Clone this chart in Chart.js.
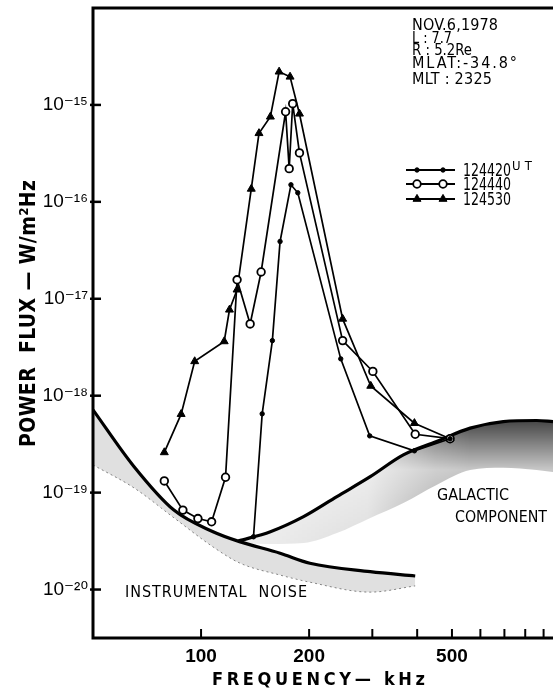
<!DOCTYPE html>
<html><head><meta charset="utf-8">
<script src="https://cdn.jsdelivr.net/npm/chart.js@4.4.0/dist/chart.umd.min.js"></script>
<style>html,body{margin:0;padding:0;background:#fff;}#wrap{width:553px;height:690px;}</style>
</head><body><div id="wrap"><canvas id="c" width="553" height="690"></canvas></div>
<script>
// ---- data (kHz, W/m^2Hz) ----
const freq420 = [140,148,158,166,178,186,245,295,393,494];
const flux420 = [3.5e-20,6.5e-19,3.7e-18,3.9e-17,1.5e-16,1.24e-16,2.4e-18,3.85e-19,2.7e-19,3.6e-19];
const freq440 = [79,89,98,107,117,126,137,147,172,176,180,188,248,301,395,494];
const flux440 = [1.32e-19,6.6e-20,5.4e-20,5.0e-20,1.44e-19,1.57e-17,5.5e-18,1.89e-17,8.5e-16,2.2e-16,1.03e-15,3.2e-16,3.7e-18,1.78e-18,4.0e-19,3.6e-19];
const freq530 = [79,88,96,116,120,126,138,145,156,165,177,188,248,297,393,494];
const flux530 = [2.6e-19,6.45e-19,2.26e-18,3.63e-18,7.7e-18,1.24e-17,1.36e-16,5.1e-16,7.55e-16,2.2e-15,1.95e-15,8.1e-16,6.2e-18,1.26e-18,5.2e-19,3.6e-19];
const seriesLabels = ['124420','124440','124530'];

const noiseFreq  = [50,65,84,108,128,166,201,296,395];
const noiseUpper = [7.15e-19,1.86e-19,6.6e-20,3.95e-20,3.12e-20,2.37e-20,1.87e-20,1.53e-20,1.38e-20];
const noiseLower = [1.93e-19,1.12e-19,5.5e-20,2.75e-20,1.88e-20,1.41e-20,1.19e-20,9.4e-21,1.09e-20];

const galFreq  = [127,156,193,239,296,366,453,562,695,861,956];
const galUpper = [3.17e-20,3.95e-20,5.65e-20,9.1e-20,1.46e-19,2.45e-19,3.37e-19,4.63e-19,5.41e-19,5.55e-19,5.41e-19];
const galLower = [3.0e-20,2.95e-20,3.02e-20,3.83e-20,5.48e-20,7.8e-20,1.2e-19,1.71e-19,1.8e-19,1.71e-19,1.63e-19];

const xTickValues = [100,200,300,400,500,600,700,800,900];
const xTickLabels = ['100','200','','','500','','','',''];
const yTickValues = [1e-20,1e-19,1e-18,1e-17,1e-16,1e-15];
const yTickLabels = ['10\u207B\u00B2\u2070','10\u207B\u00B9\u2079','10\u207B\u00B9\u2078','10\u207B\u00B9\u2077','10\u207B\u00B9\u2076','10\u207B\u00B9\u2075'];

const infoLines = ['NOV.6,1978','L : 7.7','R : 5.2Re','MLAT:-34.8\u00B0','MLT : 2325'];
const xTitle = 'FREQUENCY\u2014 kHz';
const yTitle = 'POWER  FLUX \u2014 W/m\u00B2Hz';
const noiseLabel = 'INSTRUMENTAL  NOISE';
const galLabel = ['GALACTIC','COMPONENT'];

const FONT = "'DejaVu Sans Condensed','DejaVu Sans',sans-serif";
const TICKFONT = "'Liberation Sans','DejaVu Sans',sans-serif";

function pts(xs, ys){ return xs.map((x,i)=>({x:x, y:ys[i]})); }

function spaced(ctx, s, x, y, width, font, align){
  ctx.save();
  ctx.font = font;
  ctx.letterSpacing = '0px';
  const w = ctx.measureText(s).width;
  let sp = width ? (width - w)/Math.max(1,s.length-1) : 0;
  ctx.textAlign = align || 'left';
  ctx.textBaseline = 'alphabetic';
  ctx.fillStyle = '#000';
  if (sp < 0) {
    ctx.translate(x, y);
    ctx.scale(width / w, 1);
    ctx.fillText(s, 0, 0);
  } else {
    ctx.letterSpacing = sp + 'px';
    ctx.fillText(s, x, y);
  }
  ctx.restore();
}

const decor = {
  id:'decor',
  afterDraw(chart){
    const ctx = chart.ctx, a = chart.chartArea, xs = chart.scales.x, ys = chart.scales.y;
    ctx.save();
    ctx.strokeStyle = '#000'; ctx.lineCap='butt';
    ctx.lineWidth = 3;
    ctx.beginPath();
    ctx.moveTo(a.right, a.top); ctx.lineTo(a.left, a.top); ctx.lineTo(a.left, a.bottom); ctx.lineTo(a.right, a.bottom);
    ctx.stroke();
    ctx.lineWidth = 2.5;
    yTickValues.forEach(v=>{ const y = ys.getPixelForValue(v); ctx.beginPath(); ctx.moveTo(a.left-3,y); ctx.lineTo(a.left+8,y); ctx.stroke(); });
    ctx.lineWidth = 2;
    xTickValues.forEach(v=>{ const x = xs.getPixelForValue(v); ctx.beginPath(); ctx.moveTo(x,a.bottom); ctx.lineTo(x,a.bottom-9); ctx.stroke(); });
    ctx.restore();

    // info block
    const infoY = [30,43,55,68,84];
    const infoW = [86,40,60,105,80];
    infoLines.forEach((s,i)=> spaced(ctx, s, 412, infoY[i], infoW[i], "16px "+FONT));
    // legend
    const legY = [170,184,199];
    [4,5,6].forEach((di,i)=>{
      const ds = chart.data.datasets[di];
      ctx.save();
      ctx.strokeStyle='#000'; ctx.lineWidth=1.8;
      ctx.beginPath(); ctx.moveTo(406,legY[i]); ctx.lineTo(455,legY[i]); ctx.stroke();
      ctx.fillStyle = ds.pointBackgroundColor; ctx.strokeStyle = ds.pointBorderColor; ctx.lineWidth = ds.pointBorderWidth;
      [417,443].forEach(px=>{
        Chart.helpers.drawPoint(ctx, {pointStyle: ds.pointStyle, radius: ds.pointRadius, borderWidth: ds.pointBorderWidth, rotation:0}, px, legY[i]);
      });
      ctx.restore();
      spaced(ctx, ds.label, 463, legY[i]+6, 48, "17px "+FONT);
    });
    spaced(ctx, 'UT', 512, 170, 20, "13px "+FONT);
    // curve labels
    spaced(ctx, noiseLabel, 125, 597, 182, "16px "+FONT);
    spaced(ctx, galLabel[0], 437, 500, 72, "16px "+FONT);
    spaced(ctx, galLabel[1], 455, 522, 92, "16px "+FONT);
    // axis titles
    spaced(ctx, xTitle, 212, 685, 213, "bold 18px "+FONT);
    ctx.save();
    ctx.translate(35, 447);
    ctx.rotate(-Math.PI/2);
    spaced(ctx, yTitle, 0, 0, 267, "bold 21px "+FONT);
    ctx.restore();
  }
};

function galFill(c){
  const ch = c.chart, a = ch.chartArea;
  if(!a) return 'rgba(0,0,0,0.2)';
  const xs = ch.scales.x, ys = ch.scales.y;
  const off = document.createElement('canvas');
  off.width = ch.width; off.height = ch.height;
  const o = off.getContext('2d');
  const gh = o.createLinearGradient(xs.getPixelForValue(130),0,xs.getPixelForValue(560),0);
  gh.addColorStop(0,'rgba(0,0,0,0.10)');
  gh.addColorStop(0.55,'rgba(0,0,0,0.22)');
  gh.addColorStop(0.85,'rgba(0,0,0,0.62)');
  gh.addColorStop(1,'rgba(0,0,0,0.72)');
  o.fillStyle = gh; o.fillRect(0,0,off.width,off.height);
  o.globalCompositeOperation = 'destination-in';
  const gv = o.createLinearGradient(0,ys.getPixelForValue(5.5e-19),0,ys.getPixelForValue(3e-20));
  gv.addColorStop(0,'rgba(0,0,0,1)');
  gv.addColorStop(0.4,'rgba(0,0,0,0.3)');
  gv.addColorStop(1,'rgba(0,0,0,0.6)');
  o.fillStyle = gv; o.fillRect(0,0,off.width,off.height);
  return ch.ctx.createPattern(off,'no-repeat');
}

const lineCommon = {borderColor:'#000', borderWidth:1.7, tension:0, fill:false, order:0};
const zeroPad = s => { s.paddingLeft = 0; s.paddingRight = 0; s.paddingTop = 0; s.paddingBottom = 0; };

new Chart(document.getElementById('c'), {
  type:'line',
  data:{ datasets:[
    {label:'noise', data:pts(noiseFreq,noiseUpper), borderColor:'#000', borderWidth:3.2, pointRadius:0, cubicInterpolationMode:'monotone', fill:false, order:2},
    {label:'noiseLow', data:pts(noiseFreq,noiseLower), borderColor:'rgba(0,0,0,0.45)', borderWidth:1, borderDash:[2,3], pointRadius:0, cubicInterpolationMode:'monotone', fill:{target:0}, backgroundColor:'rgba(0,0,0,0.12)', order:2},
    {label:'gal', data:pts(galFreq,galUpper), borderColor:'#000', borderWidth:3.2, pointRadius:0, cubicInterpolationMode:'monotone', fill:false, order:1},
    {label:'galLow', data:pts(galFreq,galLower), borderColor:'rgba(0,0,0,0)', borderWidth:0, pointRadius:0, cubicInterpolationMode:'monotone', fill:{target:2}, backgroundColor:galFill, order:1},
    Object.assign({label:seriesLabels[0], data:pts(freq420,flux420), pointStyle:'circle', pointRadius:2.2, pointBackgroundColor:'#000', pointBorderColor:'#000', pointBorderWidth:1}, lineCommon),
    Object.assign({label:seriesLabels[1], data:pts(freq440,flux440), pointStyle:'circle', pointRadius:3.8, pointBackgroundColor:'#fff', pointBorderColor:'#000', pointBorderWidth:1.8}, lineCommon),
    Object.assign({label:seriesLabels[2], data:pts(freq530,flux530), pointStyle:'triangle', pointRadius:4.6, pointBackgroundColor:'#000', pointBorderColor:'#000', pointBorderWidth:1}, lineCommon)
  ]},
  options:{
    responsive:false, animation:false, devicePixelRatio:1,
    layout:{autoPadding:false, padding:{top:8,left:0,right:0,bottom:0}},
    plugins:{legend:{display:false}, tooltip:{enabled:false}},
    scales:{
      x:{type:'logarithmic', min:50, max:956,
        afterBuildTicks:s=>{ s.ticks = xTickValues.map(v=>({value:v})); },
        afterFit:s=>{ s.height = 52; zeroPad(s); },
        grid:{display:false, drawTicks:false}, border:{display:false},
        ticks:{autoSkip:false, maxRotation:0, padding:7, color:'#000',
          font:{family:TICKFONT, size:19, weight:'bold'},
          callback:(v)=>{ const i = xTickValues.indexOf(v); return i>=0 ? xTickLabels[i] : ''; }}
      },
      y:{type:'logarithmic', min:3.1623e-21, max:1e-14,
        afterBuildTicks:s=>{ s.ticks = yTickValues.map(v=>({value:v})); },
        afterFit:s=>{ s.width = 93; zeroPad(s); },
        grid:{display:false, drawTicks:false}, border:{display:false},
        ticks:{autoSkip:false, padding:5, color:'#000',
          font:{family:TICKFONT, size:19},
          callback:(v)=>{ const i = yTickValues.findIndex(t=>Math.abs(Math.log10(t)-Math.log10(v))<1e-6); return i>=0 ? yTickLabels[i] : ''; }}
      }
    }
  },
  plugins:[decor]
});
</script>
</body></html>
